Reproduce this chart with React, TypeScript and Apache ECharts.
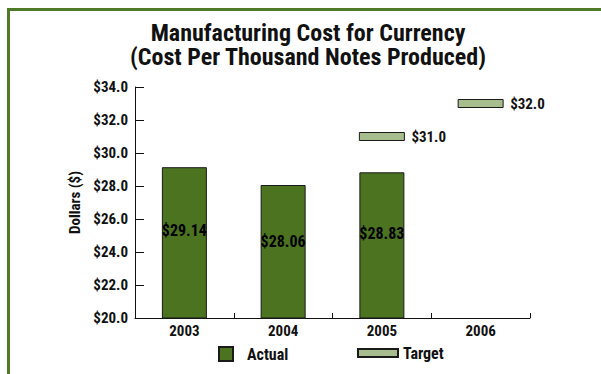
import React, { useEffect, useRef } from "react";
import * as echarts from "echarts";

const categories = ["2003", "2004", "2005", "2006"];
const actualValues: (number | null)[] = [29.14, 28.06, 28.83, null];
// target markers: level where each marker is drawn in the picture, and its printed label
const targetLevels: (number | null)[] = [null, null, 31.0, 33.0];
const targetLabels = ["", "", "$31.0", "$32.0"];
const titleLines = ["Manufacturing Cost for Currency", "(Cost Per Thousand Notes Produced)"];
const yMin = 20;
const yMax = 34;
const yInterval = 2;

const FONT = "'Roboto Condensed', 'Open Sans Condensed', sans-serif";
const GREEN = "#4b7320";
const LIGHT = "#a7bd8d";
const FRAME = "#4f7b28";
const INK = "#111";

export default function App() {
  const ref = useRef<HTMLDivElement>(null);
  useEffect(() => {
    if (!ref.current) return;
    const chart = echarts.init(ref.current, null, { renderer: "svg" });
    const targetData = targetLevels
      .map((v, i) => (v == null ? null : [i, v]))
      .filter((d) => d !== null);
    chart.setOption({
      animation: false,
      backgroundColor: "#ffffff",
      textStyle: { fontFamily: FONT },
      graphic: [
        { type: "rect", shape: { x: 7, y: 8, width: 600, height: 3 }, style: { fill: FRAME } },
        { type: "rect", shape: { x: 7, y: 8, width: 3, height: 370 }, style: { fill: FRAME } },
        {
          type: "text",
          x: 308,
          y: 21,
          style: {
            text: titleLines.join("\n"),
            font: `bold 24px ${FONT}`,
            lineHeight: 24,
            fill: INK,
            textAlign: "center",
          },
        },
      ],
      grid: { left: 135, right: 71, top: 87, bottom: 56, containLabel: false },
      legend: [
        {
          data: ["Actual"],
          left: 218,
          top: 346,
          padding: 0,
          icon: "rect",
          itemWidth: 14,
          itemHeight: 14,
          textStyle: { fontFamily: FONT, fontWeight: "bold", fontSize: 16, color: INK, padding: [0, 0, 0, 9] },
        },
        {
          data: ["Target"],
          left: 357,
          top: 345,
          padding: 0,
          icon: "rect",
          itemWidth: 40,
          itemHeight: 8,
          textStyle: { fontFamily: FONT, fontWeight: "bold", fontSize: 16, color: INK },
        },
      ],
      xAxis: {
        type: "category",
        data: categories,
        boundaryGap: true,
        axisLine: { lineStyle: { color: INK, width: 1 } },
        axisTick: { show: true, inside: true, length: 5, alignWithLabel: false, lineStyle: { color: INK } },
        axisLabel: { fontFamily: FONT, fontWeight: "bold", fontSize: 15, color: INK, margin: 5 },
      },
      yAxis: {
        type: "value",
        min: yMin,
        max: yMax,
        interval: yInterval,
        name: "Dollars ($)",
        nameLocation: "middle",
        nameGap: 41,
        nameTextStyle: { fontFamily: FONT, fontWeight: "bold", fontSize: 15, color: INK },
        axisLine: { show: true, lineStyle: { color: INK, width: 1 } },
        axisTick: { show: true, inside: true, length: 9, lineStyle: { color: INK } },
        splitLine: { show: false },
        axisLabel: {
          fontFamily: FONT,
          fontWeight: "bold",
          fontSize: 15,
          color: INK,
          margin: 7,
          formatter: (v: number) => "$" + v.toFixed(1),
        },
      },
      series: [
        {
          name: "Actual",
          type: "bar",
          data: actualValues,
          barWidth: 45,
          itemStyle: { color: GREEN, borderColor: "#1a1a1a", borderWidth: 1 },
          label: {
            show: true,
            position: ["50%", "42%"],
            align: "center",
            verticalAlign: "middle",
            fontFamily: FONT,
            fontWeight: "bold",
            fontSize: 16,
            color: "#000",
            formatter: (p: any) => "$" + Number(p.value).toFixed(2),
          },
        },
        {
          name: "Target",
          type: "custom",
          data: targetData,
          encode: { x: 0, y: 1 },
          itemStyle: { color: LIGHT, borderColor: "#1a1a1a", borderWidth: 1 },
          renderItem: (params: any, api: any) => {
            const idx = api.value(0);
            const pt = api.coord([idx, api.value(1)]);
            const w = 45;
            const h = 8;
            return {
              type: "group",
              children: [
                {
                  type: "rect",
                  shape: { x: pt[0] - w / 2, y: pt[1] - h / 2, width: w, height: h },
                  style: { fill: LIGHT, stroke: "#1a1a1a", lineWidth: 1 },
                },
                {
                  type: "text",
                  x: pt[0] + w / 2 + 7,
                  y: pt[1],
                  style: {
                    text: targetLabels[idx],
                    font: `bold 15px ${FONT}`,
                    fill: INK,
                    textVerticalAlign: "middle",
                  },
                },
              ],
            };
          },
        },
      ],
    });
    return () => chart.dispose();
  }, []);
  return (
    <div
      ref={ref}
      style={{ position: "fixed", left: 0, top: 0, width: 601, height: 374 }}
    />
  );
}
